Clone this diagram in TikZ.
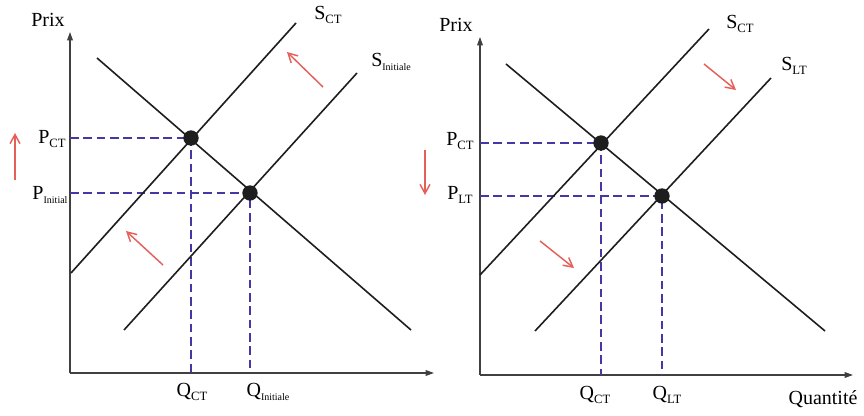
\documentclass[tikz,border=0pt]{standalone}
\usepackage{fontspec}
\setmainfont{Liberation Serif}
\usetikzlibrary{arrows.meta,positioning}
\definecolor{mkink}{HTML}{1E1E1E}
\definecolor{mkblue}{HTML}{4338A6}
\definecolor{mkred}{HTML}{E5605A}
\newcommand{\subLbl}[1]{\raisebox{-0.45ex}{\fontsize{9.5}{10}\selectfont #1}}
\newcommand{\subTiny}[1]{\raisebox{-0.5ex}{\fontsize{7.5}{8}\selectfont #1}}
\tikzset{
  axisLine/.style={-{Triangle[length=2.2mm,width=1.5mm]}, line width=0.9pt, draw=mkink!85},
  curveLine/.style={line width=1.2pt, draw=mkink},
  guideLine/.style={dash pattern=on 6.5pt off 3.5pt, line width=1pt, draw=mkblue},
  shiftArrow/.style={-{Straight Barb[length=2.4mm,width=2.6mm]}, line width=1.1pt, draw=mkred},
  eqDot/.style={circle, fill=mkink, inner sep=0pt, minimum size=11.5pt},
  bigLabel/.style={font=\fontsize{15}{17}\selectfont, inner sep=0pt}
}
\begin{document}
\begin{tikzpicture}[x=0.75pt,y=-0.75pt]
  \useasboundingbox (0,0) rectangle (864,416);
  % left panel: short-term shift
  \coordinate (oA) at (70,373);
  \coordinate (yA) at (70,32);
  \coordinate (xA) at (434,373);
  \draw[axisLine] (oA) -- (yA);
  \draw[axisLine] (oA) -- (xA);
  \node[bigLabel] (prixA) at (48,20) {Prix};
  \coordinate (eA1) at (191,138);
  \coordinate (eA2) at (250,193);
  \coordinate (pA1) at (70,138);
  \coordinate (pA2) at (70,193);
  \coordinate (qA1) at (191,373);
  \coordinate (qA2) at (250,373);
  \draw[guideLine] (pA1) -- (eA1) -- (qA1);
  \draw[guideLine] (pA2) -- (eA2) -- (qA2);
  \coordinate (dA1) at (97,58);
  \coordinate (dA2) at (411,330);
  \coordinate (sA1) at (71,273);
  \coordinate (sA2) at (296,23);
  \coordinate (tA1) at (124,330);
  \coordinate (tA2) at (357,73);
  \draw[curveLine] (dA1) -- (dA2);
  \draw[curveLine] (sA1) -- (sA2);
  \draw[curveLine] (tA1) -- (tA2);
  \node[eqDot] (ctA) at (eA1) {};
  \node[eqDot] (iniA) at (eA2) {};
  \node[bigLabel] (sctA) at (328,15) {S\subLbl{CT}};
  \node[bigLabel] (siniA) at (391,62) {S\subTiny{Initiale}};
  \node[bigLabel] (pctA) at (52,139) {P\subLbl{CT}};
  \node[bigLabel] (piniA) at (50,195) {P\subTiny{Initial}};
  \node[bigLabel] (qctA) at (192,392) {Q\subLbl{CT}};
  \node[bigLabel] (qiniA) at (268,392) {Q\subTiny{Initiale}};
  \coordinate (uA1) at (15,180);
  \coordinate (uA2) at (15,133);
  \coordinate (mA1) at (323,87);
  \coordinate (mA2) at (287,52);
  \coordinate (nA1) at (163,265);
  \coordinate (nA2) at (126,231);
  \draw[shiftArrow] (uA1) -- (uA2);
  \draw[shiftArrow] (mA1) -- (mA2);
  \draw[shiftArrow] (nA1) -- (nA2);
  % right panel: long-term shift
  \coordinate (oB) at (480,375);
  \coordinate (yB) at (480,37);
  \coordinate (xB) at (853,375);
  \draw[axisLine] (oB) -- (yB);
  \draw[axisLine] (oB) -- (xB);
  \node[bigLabel] (prixB) at (456,25) {Prix};
  \node[bigLabel] (quantB) at (823,399) {Quantité};
  \coordinate (eB1) at (601,143);
  \coordinate (eB2) at (662,196);
  \coordinate (pB1) at (480,143);
  \coordinate (pB2) at (480,196);
  \coordinate (qB1) at (601,375);
  \coordinate (qB2) at (662,375);
  \draw[guideLine] (pB1) -- (eB1) -- (qB1);
  \draw[guideLine] (pB2) -- (eB2) -- (qB2);
  \coordinate (dB1) at (506,64);
  \coordinate (dB2) at (825,331);
  \coordinate (sB1) at (480,275);
  \coordinate (sB2) at (709,29);
  \coordinate (tB1) at (535,331);
  \coordinate (tB2) at (771,78);
  \draw[curveLine] (dB1) -- (dB2);
  \draw[curveLine] (sB1) -- (sB2);
  \draw[curveLine] (tB1) -- (tB2);
  \node[eqDot] (ctB) at (eB1) {};
  \node[eqDot] (ltB) at (eB2) {};
  \node[bigLabel] (sctB) at (740,24) {S\subLbl{CT}};
  \node[bigLabel] (sltB) at (794,66) {S\subLbl{LT}};
  \node[bigLabel] (pctB) at (460,141) {P\subLbl{CT}};
  \node[bigLabel] (pltB) at (460,195) {P\subLbl{LT}};
  \node[bigLabel] (qctB) at (595,395) {Q\subLbl{CT}};
  \node[bigLabel] (qltB) at (667,395) {Q\subLbl{LT}};
  \coordinate (uB1) at (425,150);
  \coordinate (uB2) at (425,195);
  \coordinate (mB1) at (704,64);
  \coordinate (mB2) at (736,90);
  \coordinate (nB1) at (540,241);
  \coordinate (nB2) at (574,268);
  \draw[shiftArrow] (uB1) -- (uB2);
  \draw[shiftArrow] (mB1) -- (mB2);
  \draw[shiftArrow] (nB1) -- (nB2);
\end{tikzpicture}
\end{document}
